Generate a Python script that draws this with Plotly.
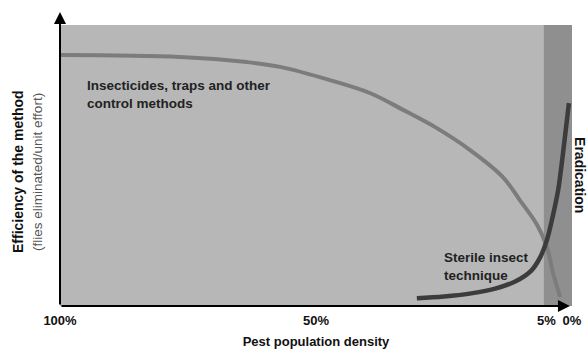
import plotly.graph_objects as go

# Insecticides, traps and other control methods (x = pest population density %, y = efficiency)
insect_x = [100, 76.6, 63.5, 57.0, 47.3, 39.5, 33.0, 26.4, 19.9, 13.5, 10.2, 6.8, 4.9, 3.6, 2.3]
insect_y = [89.3, 88.6, 86.8, 85.1, 80.4, 75.8, 69.8, 63.3, 55.5, 45.9, 37.7, 28.8, 21.0, 11.0, 3.2]

# Sterile insect technique
sit_x = [30.3, 25.0, 20.0, 15.0, 11.0, 8.0, 6.2, 4.9, 3.7, 2.7, 1.8, 0.6]
sit_y = [2.8, 3.4, 4.4, 6.2, 8.8, 12.5, 17.4, 23.5, 32.4, 41.3, 53.7, 72.2]

tick_vals = [100, 50, 5, 0]
tick_text = ["100%", "50%", "5%", "0%"]
erad_start = 5.5

FONT = "Liberation Sans, Arial, sans-serif"

fig = go.Figure()
fig.add_trace(go.Scatter(x=insect_x, y=insect_y, mode="lines",
                         line=dict(color="#7c7c7c", width=4, shape="spline", smoothing=1.0),
                         hoverinfo="skip"))
fig.add_trace(go.Scatter(x=sit_x, y=sit_y, mode="lines",
                         line=dict(color="#3c3c3c", width=4.5, shape="spline", smoothing=1.0),
                         hoverinfo="skip"))

fig.add_shape(type="rect", xref="x", yref="paper", x0=erad_start, x1=0, y0=0, y1=1,
              fillcolor="#8f8f8f", line=dict(width=0), layer="below")

# axis arrows
fig.add_annotation(xref="paper", yref="paper", x=0, y=1.046, ax=0, ay=294, axref="pixel", ayref="pixel",
                   showarrow=True, arrowhead=2, arrowsize=1.2, arrowwidth=2, arrowcolor="#000", text="")
fig.add_annotation(xref="paper", yref="paper", x=0.996, y=0, ax=-510, ay=0,
                   showarrow=True, arrowhead=2, arrowsize=1.2, arrowwidth=2, arrowcolor="#000", text="")

# y axis titles
fig.add_annotation(xref="paper", yref="paper", x=-0.082, y=0.477, xanchor="center", yanchor="middle",
                   text="<b>Efficiency of the method</b>",
                   textangle=-90, showarrow=False, font=dict(family=FONT, size=14, color="#111"))
fig.add_annotation(xref="paper", yref="paper", x=-0.043, y=0.477, xanchor="center", yanchor="middle",
                   text="(flies eliminated/unit effort)",
                   textangle=-90, showarrow=False, font=dict(family=FONT, size=13.5, color="#555"))

fig.add_annotation(xref="paper", yref="paper", x=1.0156, y=0.466, xanchor="center", yanchor="middle",
                   text="<b>Eradication</b>",
                   textangle=90, showarrow=False, font=dict(family=FONT, size=14, color="#111"))

fig.add_annotation(xref="paper", yref="paper", x=0.049, y=0.751, xanchor="left", yanchor="middle", align="left",
                   text="<b>Insecticides, traps and other<br>control methods</b>",
                   showarrow=False, font=dict(family=FONT, size=13.5, color="#222"))
fig.add_annotation(xref="paper", yref="paper", x=0.746, y=0.139, xanchor="left", yanchor="middle", align="left",
                   text="<b>Sterile insect<br>technique</b>",
                   showarrow=False, font=dict(family=FONT, size=13.5, color="#222"))

fig.update_layout(
    width=587, height=350,
    margin=dict(l=60, r=15, t=25, b=44, autoexpand=False),
    plot_bgcolor="#b7b7b7", paper_bgcolor="#ffffff",
    showlegend=False,
    font=dict(family=FONT, color="#111"),
    xaxis=dict(range=[100, 0], showgrid=False, zeroline=False, showline=False, automargin=False,
               tickvals=tick_vals, ticktext=["<b>%s</b>" % t for t in tick_text],
               tickfont=dict(family=FONT, size=13, color="#111"), ticks="", ticklabelstandoff=5,
               title=dict(text="<b>Pest population density</b>", font=dict(family=FONT, size=13, color="#111"),
                          standoff=9), fixedrange=True),
    yaxis=dict(range=[0, 100], showgrid=False, zeroline=False, showline=False, automargin=False,
               showticklabels=False, ticks="", fixedrange=True),
)

fig.write_html("out.html", config={"displayModeBar": False},
               post_script="document.body.style.margin='0';document.body.style.overflow='hidden';")
